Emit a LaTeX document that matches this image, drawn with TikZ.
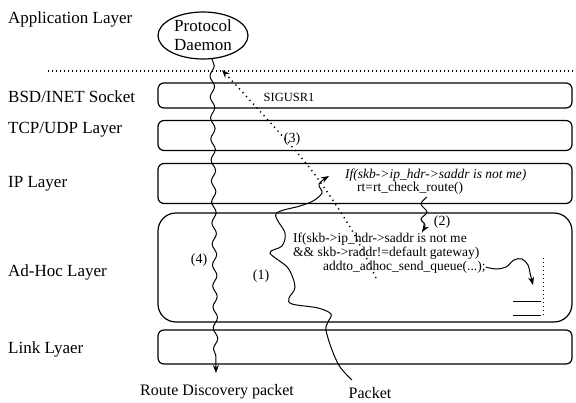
\documentclass[tikz,border=0pt]{standalone}
\usepackage{fontspec}
\setmainfont{Liberation Serif}
\usetikzlibrary{positioning, arrows.meta, shapes.geometric, decorations.pathmorphing}

\begin{document}
\begin{tikzpicture}[
    x=1pt, y=-1pt,
    >={Stealth[length=8pt,width=6pt]},
    font=\fontsize{17}{19}\selectfont,
    layer/.style={draw, rectangle, rounded corners=6pt, minimum width=414pt, line width=1.2pt, inner sep=0pt},
    lbl/.style={anchor=west, inner sep=0pt},
    code/.style={anchor=west, inner sep=0pt, align=left, font=\fontsize{13.5}{14}\selectfont},
    num/.style={inner sep=0pt, font=\fontsize{14}{16}\selectfont},
    flow/.style={->, line width=1pt},
    wavy/.style={decorate, decoration={snake, amplitude=2.2pt, segment length=21pt, post length=8pt}},
    sep/.style={line width=1.3pt, dash pattern=on 1pt off 3pt}
]
\useasboundingbox (0,0) rectangle (576,403);

% Layer names
\node[lbl] (applbl) at (8,19) {Application Layer};
\node[lbl] (bsdlbl) at (8,97) {BSD/INET Socket};
\node[lbl] (tcplbl) at (8,130) {TCP/UDP Layer};
\node[lbl] (iplbl) at (8,184) {IP Layer};
\node[lbl] (adhoclbl) at (8,272) {Ad-Hoc Layer};
\node[lbl] (linklbl) at (8,349) {Link Lyaer};

% Layers
\node[draw, ellipse, minimum width=90pt, minimum height=47pt, inner sep=0pt, align=center, line width=1.2pt] (daemon) at (203,35.5) {Protocol\\Daemon};
\coordinate (sepL) at (48,71);
\coordinate (sepR) at (576,71);
\draw[sep] (sepL) -- (sepR);
\node[layer, minimum height=25pt] (bsd) at (365,95.5) {};
\node[layer, minimum height=30pt] (tcp) at (365,135.5) {};
\node[layer, minimum height=40pt] (ip) at (365,183.5) {};
\node[layer, minimum height=109pt, rounded corners=18pt] (adhoc) at (365,267.5) {};
\node[layer, minimum height=34pt] (link) at (365,347) {};

% Texts in the layers
\node[inner sep=0pt, font=\fontsize{12.5}{14}\selectfont] (sigusr) at (289,97) {SIGUSR1};
\node[code, font=\fontsize{13.5}{14}\selectfont\itshape] (ipcond) at (345,175) {If(skb->ip\_hdr->saddr is not me)};
\node[code] (iproute) at (357,188) {rt=rt\_check\_route()};
\node[code] (adcond) at (293,246) {If(skb->ip\_hdr->saddr is not me\\\&\& skb->raddr!=default gateway)};
\node[code] (adqueue) at (323,267) {addto\_adhoc\_send\_queue(...);};
\node[font=\fontsize{16}{18}\selectfont, inner sep=0pt] (rdp) at (217,392) {Route Discovery packet};
\node[font=\fontsize{16}{18}\selectfont, inner sep=0pt] (packet) at (370,393) {Packet};

% Numbers
\node[num] (n1) at (261,276) {(1)};
\node[num] (n2) at (442,222) {(2)};
\node[num] (n3) at (292,139) {(3)};
\node[num] (n4) at (199,260) {(4)};

% (4) route discovery
\coordinate (p4s) at (212,59);
\coordinate (p4e) at (216,373);
\draw[flow, wavy] (p4s) -- (p4e);

% (1) packet up to the IP layer
\coordinate (p1s) at (352,380);
\coordinate (p1e) at (329,176);
\draw[flow] plot[smooth, tension=0.55] coordinates {(p1s) (340,367) (332,350) (326,330) (328,322) (331,314) (318,308) (292,304) (289,298) (295,287) (288,268) (270,253) (282,246) (285,233) (276,214) (300,206) (313,201) (322,193) (319,184) (p1e)};

% (2) IP layer down to the Ad-Hoc layer
\coordinate (p2s) at (427,197);
\coordinate (p2e) at (422,232);
\draw[flow] plot[smooth, tension=0.6] coordinates {(p2s) (421,204) (427,212) (421,219) (425,225) (p2e)};

% (3) signal to the daemon
\coordinate (p3s) at (376,278);
\coordinate (p3e) at (222,70);
\draw[flow, line width=1.5pt, dash pattern=on 1.2pt off 4pt] plot[smooth, tension=0.5] coordinates {(p3s) (350,227) (305,162) (p3e)};

% send queue
\coordinate (pqe) at (533,285);
\draw[flow] plot[smooth, tension=0.6] coordinates {(adqueue.east) (496,269) (506,267) (514,260) (522,259) (528,265) (530,273) (pqe)};
\draw[line width=0.9pt, dash pattern=on 1pt off 3pt] (543,258) -- (543,318);
\draw[line width=1pt] (513,302) -- (541,302);
\draw[line width=1pt] (513,316) -- (541,316);
\end{tikzpicture}
\end{document}
